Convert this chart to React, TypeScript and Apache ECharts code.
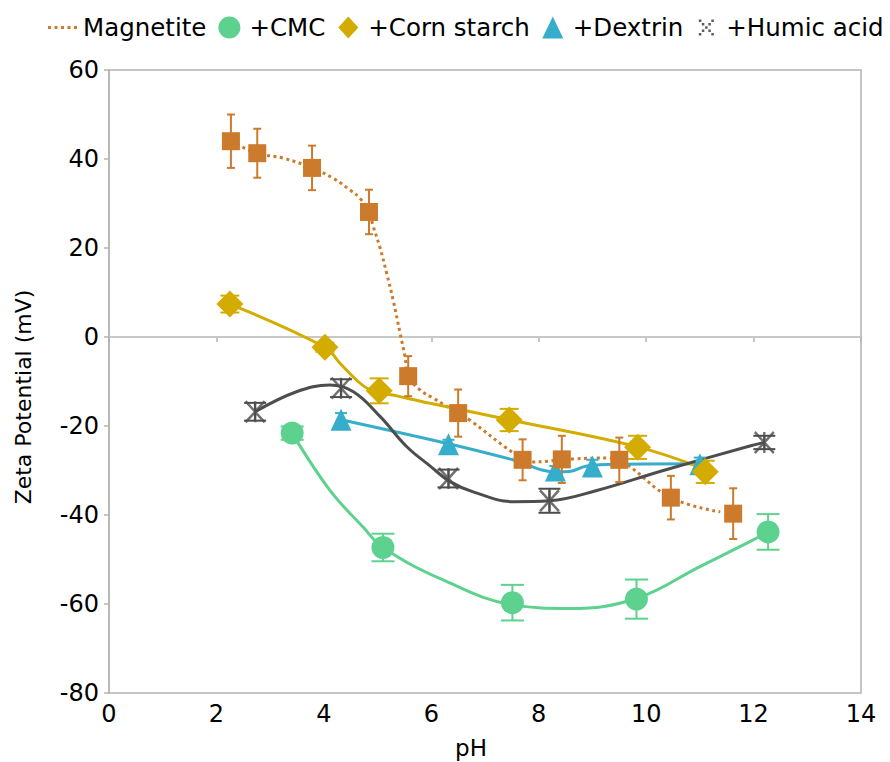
import React, { useEffect, useRef } from "react";
import * as echarts from "echarts";

// ---- data ----
const magPH = [2.27, 2.76, 3.78, 4.84, 5.57, 6.5, 7.7, 8.43, 9.5, 10.46, 11.62];
const magZeta = [44.0, 41.3, 38.0, 28.1, -8.8, -17.1, -27.6, -27.5, -27.6, -36.1, -39.7];
const magErr = [6, 5.5, 5, 5, 4.5, 5.3, 4.6, 5.3, 5, 4.9, 5.7];

const cmcPH = [3.41, 5.1, 7.51, 9.82, 12.27];
const cmcZeta = [-21.6, -47.3, -59.7, -58.9, -43.8];
const cmcErr = [1.5, 3.1, 4, 4.4, 4];

const cornPH = [2.25, 4.02, 5.03, 7.45, 9.84, 11.1];
const cornZeta = [7.4, -2.3, -12.1, -18.65, -24.8, -30.3];
const cornErr = [1.9, 1, 2.8, 2.5, 2.6, 2.5];

const dexPH = [4.32, 6.32, 8.31, 9.0, 11.0];
const dexZeta = [-18.6, -24.1, -30.0, -29.1, -28.6];
const dexErr = [1.5, 1, 1, 1.5, 1.5];

const humPH = [2.72, 4.32, 6.32, 8.2, 12.2];
const humZeta = [-16.8, -11.5, -31.8, -36.8, -23.7];
const humErr = [2, 2, 2, 2.7, 1.5];

// fitted curves as drawn in the reference
const magCurve = [
  [2.27, 44], [2.76, 41.3], [3.24, 40.2], [3.78, 38], [4.17, 35.7], [4.49, 33], [4.67, 31.2],
  [4.84, 28.1], [4.92, 24.8], [5.04, 20.3], [5.17, 14.3], [5.29, 8.3], [5.42, 0.8], [5.51, -4.4],
  [5.57, -8.8], [5.79, -11.9], [6.03, -13.7], [6.5, -17.1], [6.72, -18.7], [7.52, -26],
  [7.84, -28.1], [8.64, -27.4], [9.33, -27.2], [9.6, -28.3], [10.46, -36.1], [11.38, -39.3],
];
const cmcCurve = [
  [3.41, -21.6], [4.11, -34.4], [4.73, -42.7], [5.1, -47.3], [6.22, -54.6], [7.52, -60.2],
  [8.58, -61], [9.83, -58.7], [11.0, -51.6], [11.93, -46], [12.27, -43.8],
];
const cornCurve = [
  [2.25, 7.4], [4.02, -2.3], [4.3, -5.9], [4.61, -9.7], [4.87, -11.9], [5.42, -13.4],
  [5.98, -14.9], [7.45, -18.6], [9.84, -24.7], [11.0, -29.3],
];
const dexCurve = [
  [4.32, -18.6], [6.32, -24], [7.52, -27.6], [8.33, -30.3], [8.58, -30.2], [8.9, -29],
  [9.5, -28.6], [11.0, -28.5],
];
const humCurve = [
  [2.72, -16.8], [3.49, -12.3], [4.11, -10.8], [4.55, -12.3], [5.05, -17.9], [5.54, -24.6],
  [5.98, -29], [6.35, -32.5], [6.78, -34.8], [7.53, -37], [8.2, -36.8], [9.08, -34.5],
  [10.32, -30], [11.93, -24.5], [12.2, -23.7],
];

const xTicks = { min: 0, max: 14, interval: 2 };
const yTicks = { min: -80, max: 60, interval: 20 };

const C_MAG = "#cc7a2b";
const C_CMC = "#5dd28e";
const C_CORN = "#d4ac00";
const C_DEX = "#36adca";
const C_HUM = "#4d4d4d";
const FONT = "DejaVu Sans";
const FS = 24;

const zip3 = (a: number[], b: number[], c: number[]) => a.map((v, i) => [v, b[i], c[i]]);
const zip2 = (a: number[], b: number[]) => a.map((v, i) => [v, b[i]]);

const ANCHOR = "M0,0h0.01v0.01h-0.01z M29.99,21.99h0.01v0.01h-0.01z ";
const ICON_MAG =
  "path://" + ANCHOR + "M0,9.5h3v3h-3z M6.5,9.5h3v3h-3z M13,9.5h3v3h-3z M19.5,9.5h3v3h-3z M26,9.5h3v3h-3z";
const ICON_CMC = "path://" + ANCHOR + "M4,11a11,11 0 1,0 22,0a11,11 0 1,0 -22,0z";
const ICON_CORN = "path://" + ANCHOR + "M15,0L25,11L15,22L5,11z";
const ICON_DEX = "path://" + ANCHOR + "M15,0L25.5,22L4.5,22z";
const ICON_HUM =
  "path://" +
  ANCHOR +
  "M7.5,3h2.5v2.5h-2.5z M20,3h2.5v2.5h-2.5z M10.5,6.5h2.5v2.5h-2.5z M17,6.5h2.5v2.5h-2.5z M13.75,9.75h2.5v2.5h-2.5z M10.5,13h2.5v2.5h-2.5z M17,13h2.5v2.5h-2.5z M7.5,16.5h2.5v2.5h-2.5z M20,16.5h2.5v2.5h-2.5z";

function errSeries(name: string, data: number[][], color: string, half: number) {
  return {
    name: name + " err",
    type: "custom",
    coordinateSystem: "cartesian2d",
    silent: true,
    z: 3,
    encode: { x: 0, y: 1 },
    data,
    renderItem: (_p: any, api: any) => {
      const x = api.value(0);
      const y = api.value(1);
      const e = api.value(2);
      const t = api.coord([x, y + e]);
      const b = api.coord([x, y - e]);
      const st = { stroke: color, lineWidth: 2 };
      return {
        type: "group",
        children: [
          { type: "line", shape: { x1: t[0], y1: t[1], x2: b[0], y2: b[1] }, style: st },
          { type: "line", shape: { x1: t[0] - half, y1: t[1], x2: t[0] + half, y2: t[1] }, style: st },
          { type: "line", shape: { x1: b[0] - half, y1: b[1], x2: b[0] + half, y2: b[1] }, style: st },
        ],
      };
    },
  };
}

function curveSeries(name: string, data: number[][], color: string, dotted: boolean, extra: any = {}) {
  return {
    name: name + " curve",
    type: "line",
    data,
    smooth: 0.4,
    symbol: "none",
    showSymbol: false,
    silent: true,
    z: 2,
    lineStyle: { color, width: 3, type: dotted ? [3, 3.5] : "solid" },
    ...extra,
  };
}

function markerSeries(name: string, data: number[][], color: string, symbol: string, size: any, extra: any = {}) {
  return {
    name,
    type: "scatter",
    data,
    symbol,
    symbolSize: size,
    silent: true,
    z: 4,
    itemStyle: { color, opacity: 1 },
    ...extra,
  };
}

export default function App() {
  const ref = useRef<HTMLDivElement>(null);
  useEffect(() => {
    if (!ref.current) return;
    const chart = echarts.init(ref.current, null, { renderer: "svg" });
    const axisLineStyle = { color: "#b3b3b3", width: 1.5 };
    const option: any = {
      animation: false,
      backgroundColor: "#ffffff",
      textStyle: { fontFamily: FONT },
      grid: {
        left: 109,
        right: 29,
        top: 70,
        bottom: 69,
        show: true,
        borderColor: "#b3b3b3",
        borderWidth: 1.5,
        containLabel: false,
      },
      legend: {
        left: 48,
        top: 15,
        padding: 0,
        itemWidth: 30,
        itemHeight: 22,
        itemGap: 8,
        selectedMode: false,
        textStyle: { fontFamily: FONT, fontSize: 24.5, color: "#000" },
        data: [
          { name: "Magnetite", icon: ICON_MAG, itemStyle: { borderWidth: 0 } },
          { name: "+CMC", icon: ICON_CMC, itemStyle: { borderWidth: 0 } },
          { name: "+Corn starch", icon: ICON_CORN, itemStyle: { borderWidth: 0 } },
          { name: "+Dextrin", icon: ICON_DEX, itemStyle: { borderWidth: 0 } },
          { name: "+Humic acid", icon: ICON_HUM, itemStyle: { borderWidth: 0, color: "#333333" } },
        ],
      },
      xAxis: {
        type: "value",
        ...xTicks,
        axisLine: { show: true, lineStyle: axisLineStyle },
        axisTick: { show: true, length: 5, lineStyle: axisLineStyle },
        axisLabel: { fontFamily: FONT, fontSize: FS, color: "#000", margin: 9 },
        splitLine: { show: false },
      },
      yAxis: {
        type: "value",
        ...yTicks,
        axisLine: { show: true, lineStyle: axisLineStyle },
        axisTick: { show: true, length: 5, lineStyle: axisLineStyle },
        axisLabel: { fontFamily: FONT, fontSize: FS, color: "#000", margin: 10 },
        splitLine: { show: false },
      },
      graphic: [
        {
          type: "text",
          x: 23,
          y: 397,
          rotation: Math.PI / 2,
          style: {
            text: "Zeta Potential (mV)",
            fontFamily: FONT,
            fontSize: 22,
            fill: "#000",
            textAlign: "center",
            textVerticalAlign: "middle",
          },
        },
        {
          type: "text",
          x: 471,
          y: 748,
          style: {
            text: "pH",
            fontFamily: FONT,
            fontSize: 23,
            fill: "#000",
            textAlign: "center",
            textVerticalAlign: "middle",
          },
        },
      ],
      series: [
        curveSeries("Magnetite", magCurve, C_MAG, true, {
          markLine: {
            silent: true,
            symbol: ["none", "none"],
            label: { show: false },
            lineStyle: { color: "#c8c8c8", width: 1.5, type: "solid" },
            data: [{ yAxis: 0 }],
            z: 1,
          },
        }),
        curveSeries("+CMC", cmcCurve, C_CMC, false),
        curveSeries("+Dextrin", dexCurve, C_DEX, false),
        curveSeries("+Corn starch", cornCurve, C_CORN, false),
        curveSeries("+Humic acid", humCurve, C_HUM, false),
        errSeries("Magnetite", zip3(magPH, magZeta, magErr), C_MAG, 4),
        errSeries("+CMC", zip3(cmcPH, cmcZeta, cmcErr), C_CMC, 11.5),
        errSeries("+Corn starch", zip3(cornPH, cornZeta, cornErr), C_CORN, 9.5),
        errSeries("+Dextrin", zip3(dexPH, dexZeta, dexErr), C_DEX, 6),
        errSeries("+Humic acid", zip3(humPH, humZeta, humErr), C_HUM, 11),
        markerSeries("+CMC", zip2(cmcPH, cmcZeta), C_CMC, "circle", 23),
        markerSeries("+Dextrin", zip2(dexPH, dexZeta), C_DEX, "triangle", [21, 22]),
        markerSeries("+Corn starch", zip2(cornPH, cornZeta), C_CORN, "diamond", 27),
        markerSeries("Magnetite", zip2(magPH, magZeta), C_MAG, "rect", 18),
        markerSeries(
          "+Humic acid",
          zip2(humPH, humZeta),
          C_HUM,
          "path://M0,0L20,22M20,0L0,22M10,0L10,22",
          [19, 21],
          { itemStyle: { color: C_HUM, borderColor: C_HUM, borderWidth: 2.5 } }
        ),
      ],
    };
    chart.setOption(option);
    return () => chart.dispose();
  }, []);
  return (
    <div
      ref={ref}
      style={{ position: "fixed", left: 0, top: 0, width: 890, height: 762, background: "#fff" }}
    />
  );
}
